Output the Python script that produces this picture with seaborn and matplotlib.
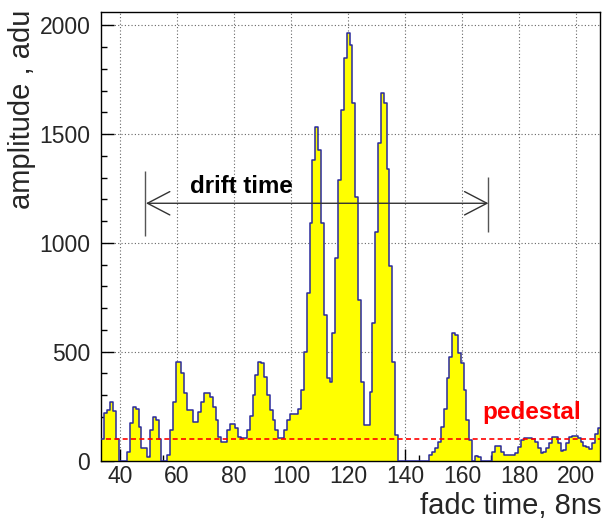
import numpy as np
import pandas as pd
import matplotlib
matplotlib.use("Agg")
import matplotlib.pyplot as plt
import seaborn as sns
from matplotlib.ticker import MultipleLocator

# ---------------- data ----------------
fadc_time = np.arange(34, 209)  # bin centres (1 unit wide bins)
amplitude = [
    97, 217, 230, 270, 229, 97,                                  # 34-39
    0, 0, 0, 40, 171, 247, 237, 153, 56, 56,                     # 40-49
    15, 140, 201, 186, 99, 0, 0, 25, 140, 270,                   # 50-59
    454, 454, 401, 309, 232, 232, 178, 178, 224, 270,            # 60-69
    309, 309, 293, 247, 186, 109, 86, 86, 140, 166,              # 70-79
    166, 150, 107, 102, 102, 140, 205, 301, 393, 451,            # 80-89
    447, 385, 301, 232, 186, 140, 102, 102, 140, 186,            # 90-99
    212, 212, 212, 237, 324, 500, 768, 1090, 1381, 1534,         # 100-109
    1427, 1090, 669, 378, 362, 585, 929, 1289, 1611, 1848,       # 110-119
    1963, 1909, 1641, 1212, 738, 362, 163, 163, 316, 630,        # 120-129
    1052, 1458, 1690, 1644, 1338, 894, 454, 117, 0, 0,           # 130-139
    0, 0, 0, 0, 0, 0, 0, 0, 0, 25,                               # 140-149
    41, 56, 87, 155, 235, 378, 477, 585, 577, 493,               # 150-159
    447, 324, 186, 94, 0, 20, 15, 0, 0, 0,                       # 160-169
    0, 41, 67, 67, 41, 25, 25, 25, 25, 33,                       # 170-179
    60, 95, 102, 105, 105, 99, 87, 56, 33, 40,                   # 180-189
    56, 80, 110, 106, 80, 45, 50, 80, 106, 113,                  # 190-199
    113, 105, 83, 67, 60, 52, 80, 121, 150,                      # 200-208
]
x_ticks = [40, 60, 80, 100, 120, 140, 160, 180, 200]
y_ticks = [0, 500, 1000, 1500, 2000]
pedestal_level = 100
drift_start, drift_end = 49.1, 169.2
drift_level = 1182

df = pd.DataFrame({"fadc_time": fadc_time, "amplitude": amplitude})

# ---------------- style ----------------
sns.set_style("ticks")
plt.rcParams["font.family"] = ["Liberation Sans", "DejaVu Sans"]

fig = plt.figure(figsize=(6.04, 5.19), dpi=100)
ax = fig.add_axes([0.168, 0.1127, 0.8262, 0.8638])

binrange = (33.5, 208.5)
sns.histplot(data=df, x="fadc_time", weights="amplitude", binwidth=1,
             binrange=binrange, element="step", fill=True, color="#ffff00",
             alpha=1, linewidth=0, ax=ax, zorder=2)
sns.histplot(data=df, x="fadc_time", weights="amplitude", binwidth=1,
             binrange=binrange, element="step", fill=False, color="#2a2a9c",
             linewidth=1.1, ax=ax, zorder=3)

ax.set_xlim(33.5, 208.5)
ax.set_ylim(0, 2060)
ax.set_xticks(x_ticks)
ax.set_yticks(y_ticks)
ax.xaxis.set_minor_locator(MultipleLocator(5))
ax.yaxis.set_minor_locator(MultipleLocator(100))
ax.set_xlabel("")
ax.set_ylabel("")

ax.grid(True, which="major", linestyle=(0, (1, 2)), color="#666666", linewidth=0.8)
ax.set_axisbelow(True)

ax.tick_params(axis="both", which="both", direction="in", top=False, right=False,
               color="black", labelsize=16.5)
ax.tick_params(axis="x", which="major", length=8.5, width=1, pad=3)
ax.tick_params(axis="x", which="minor", length=4.5, width=1)
ax.tick_params(axis="y", which="major", length=9, width=1, pad=8)
ax.tick_params(axis="y", which="minor", length=4.5, width=1)

for s in ax.spines.values():
    s.set_visible(True)
    s.set_color("black")
    s.set_linewidth(1.0)

# pedestal line
ax.hlines(pedestal_level, 35.2, 208.5, colors="red", linestyles=(0, (3, 2)),
          linewidth=1.2, zorder=4)
ax.text(166.9, 190, "pedestal", color="red", fontweight="bold", fontsize=17.5,
        va="baseline", ha="left", zorder=5)

# drift time arrow
ax.annotate("", xy=(drift_start, drift_level), xytext=(drift_end, drift_level),
            arrowprops=dict(arrowstyle="<->,head_length=1.15,head_width=0.6",
                            mutation_scale=14, color="#333333", lw=1.0,
                            shrinkA=0, shrinkB=0), zorder=5)
ax.vlines([48.8, 168.9], [1032, 1051], [1329, 1304], colors="#555555",
          linewidth=1.0, zorder=5)
ax.text(64.6, 1228, "drift time", color="black", fontweight="bold", fontsize=17.3,
        va="baseline", ha="left", zorder=5)

# axis titles
fig.text(601 / 604, 1 - 514 / 519, "fadc time, 8ns", ha="right", va="baseline",
         fontsize=21)
fig.text(22 / 604, 1 - 10 / 519, "amplitude , adu", ha="center", va="top",
         rotation=90, fontsize=21)

fig.savefig("out.png", dpi=100)
